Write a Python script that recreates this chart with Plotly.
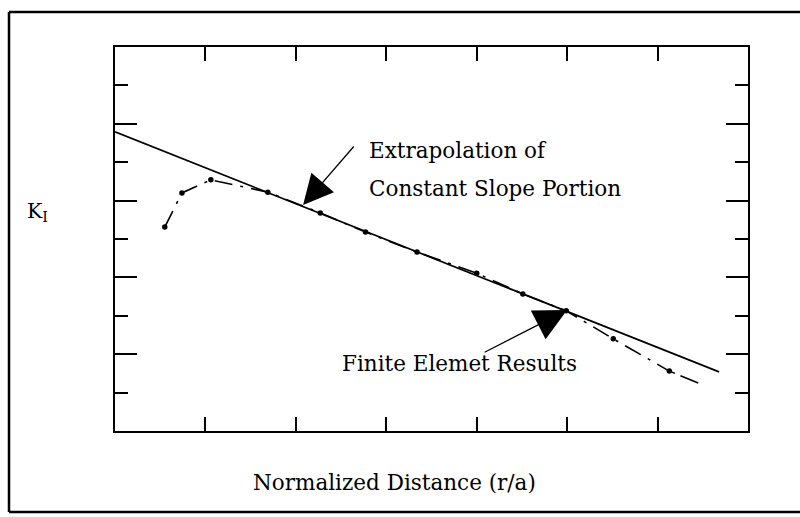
import plotly.graph_objects as go

# Finite element results (normalized units)
fe_x = [0.55, 0.74, 1.06, 1.69, 2.27, 2.77, 3.34, 4.00, 4.51, 4.99, 5.51, 6.13]
fe_y = [5.31, 6.20, 6.54, 6.22, 5.68, 5.18, 4.66, 4.11, 3.57, 3.13, 2.40, 1.56]
# dashed tail continuation past the last marker
tail_x = [6.13, 6.45]
tail_y = [1.56, 1.25]

# Extrapolation of constant slope portion
ext_x = [0.0, 6.68]
ext_y = [7.79, 1.54]

FONT = "DejaVu Serif"
BLACK = "#000000"
FS = 21.5

fig = go.Figure()
fig.add_trace(go.Scatter(x=ext_x, y=ext_y, mode="lines",
                         line=dict(color=BLACK, width=1.7), showlegend=False))
fig.add_trace(go.Scatter(x=fe_x, y=fe_y, mode="lines+markers",
                         line=dict(color=BLACK, width=1.6, dash="18px,8px,3px,8px"),
                         marker=dict(color=BLACK, size=5.5), showlegend=False))
fig.add_trace(go.Scatter(x=tail_x, y=tail_y, mode="lines",
                         line=dict(color=BLACK, width=1.6, dash="6px,6px,20px,4px"),
                         showlegend=False))

W, H = 800, 517
L, R, T, B = 115, 52, 47, 86
pw, ph = W - L - R, H - T - B

def px(xp):
    return (xp - L) / pw

def py(yp):
    return (H - B - yp) / ph

fig.update_layout(
    width=W, height=H,
    margin=dict(l=L, r=R, t=T, b=B),
    paper_bgcolor="white", plot_bgcolor="white",
    font=dict(family=FONT, color=BLACK, size=FS),
    xaxis=dict(range=[0, 7], tickvals=[1, 2, 3, 4, 5, 6], showticklabels=False,
               ticks="inside", ticklen=14, tickwidth=2, tickcolor=BLACK,
               showline=True, linewidth=2, linecolor=BLACK, mirror="ticks",
               showgrid=False, zeroline=False, fixedrange=True),
    yaxis=dict(range=[0, 10], tickvals=[2, 4, 6, 8], showticklabels=False,
               ticks="inside", ticklen=22, tickwidth=2, tickcolor=BLACK,
               minor=dict(tickvals=[1, 3, 5, 7, 9], ticks="inside", ticklen=13,
                          tickwidth=2, tickcolor=BLACK, showgrid=False),
               showline=True, linewidth=2, linecolor=BLACK, mirror="ticks",
               showgrid=False, zeroline=False, fixedrange=True),
)

# outer frame (right side cut off in the original)
fig.add_shape(type="line", xref="paper", yref="paper",
              x0=px(9), x1=px(805), y0=py(12), y1=py(12),
              line=dict(color=BLACK, width=2.5))
fig.add_shape(type="line", xref="paper", yref="paper",
              x0=px(9), x1=px(805), y0=py(512), y1=py(512),
              line=dict(color=BLACK, width=2.5))
fig.add_shape(type="line", xref="paper", yref="paper",
              x0=px(9), x1=px(9), y0=py(12), y1=py(512),
              line=dict(color=BLACK, width=2.5))

# texts
fig.add_annotation(xref="paper", yref="paper", x=px(37), y=py(212),
                   text="K<sub>I</sub>", showarrow=False,
                   xanchor="center", yanchor="middle", font=dict(size=FS - 1))
fig.add_annotation(xref="paper", yref="paper", x=px(394), y=py(482),
                   text="Normalized Distance (r/a)", showarrow=False,
                   xanchor="center", yanchor="middle", font=dict(size=FS))
fig.add_annotation(x=(367 - L) / 90.4, y=(H - B - 150) / 38.4,
                   text="Extrapolation of", showarrow=False,
                   xanchor="left", yanchor="middle", font=dict(size=FS))
fig.add_annotation(x=(367 - L) / 90.4, y=(H - B - 188) / 38.4,
                   text="Constant Slope Portion", showarrow=False,
                   xanchor="left", yanchor="middle", font=dict(size=FS))
fig.add_annotation(x=(340 - L) / 90.4, y=(H - B - 363) / 38.4,
                   text="Finite Elemet Results", showarrow=False,
                   xanchor="left", yanchor="middle", font=dict(size=FS))

# arrows
fig.add_annotation(x=2.08, y=5.885, ax=52, ay=-60, text="", showarrow=True,
                   arrowhead=2, arrowsize=4.6, arrowwidth=1.3, arrowcolor=BLACK)
fig.add_annotation(x=5.0, y=3.15, ax=-84, ay=43, text="", showarrow=True,
                   arrowhead=2, arrowsize=5.0, arrowwidth=1.3, arrowcolor=BLACK)

fig.write_html("out.html")
